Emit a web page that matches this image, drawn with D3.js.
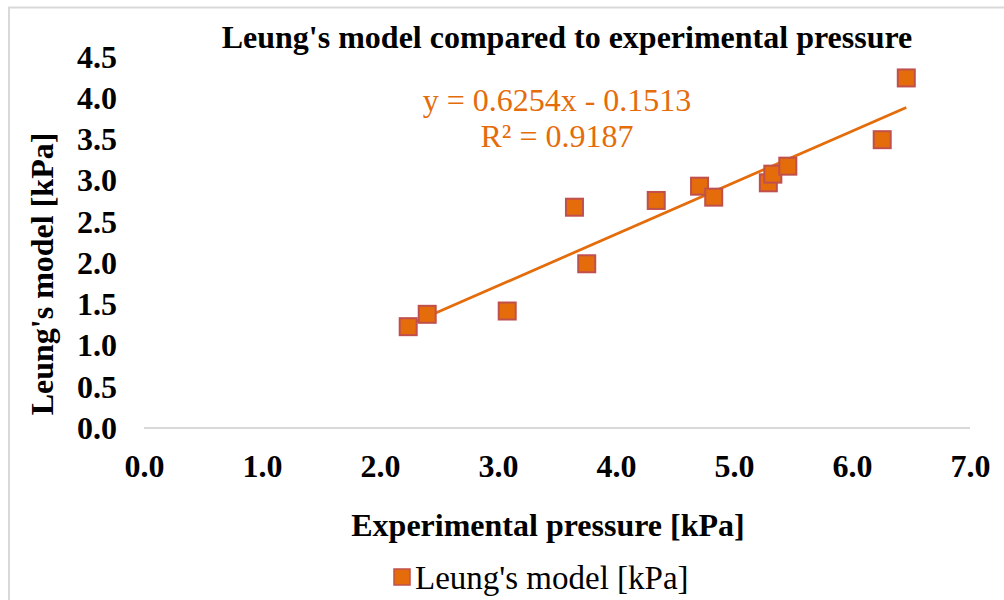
<!DOCTYPE html>
<html>
<head>
<meta charset="utf-8">
<script src="https://cdn.jsdelivr.net/npm/d3@7"></script>
<style>
  html, body { margin: 0; padding: 0; background: #fff; }
  svg { display: block; }
  text { font-family: "Liberation Serif", "Times New Roman", serif; }
</style>
</head>
<body>
<svg id="chart" width="1004" height="600"></svg>
<script>
// Experimental pressure [kPa] vs. Leung's model prediction [kPa]
const experimental = [2.239, 2.400, 3.078, 3.648, 3.752, 4.341, 4.708, 4.828, 5.291, 5.329, 5.456, 6.256, 6.460];
const leungModel   = [1.229, 1.379, 1.419, 2.678, 1.992, 2.760, 2.933, 2.800, 2.974, 3.079, 3.176, 3.497, 4.246];

// Linear trendline coefficients
const slope = 0.6254;
const intercept = -0.1513;
const rSquared = 0.9187;

const xTicks = [0, 1, 2, 3, 4, 5, 6, 7];
const yTicks = [0, 0.5, 1, 1.5, 2, 2.5, 3, 3.5, 4, 4.5];

const orange = "#E46C0A";
const markerEdge = "#C0504D";

const svg = d3.select("#chart");

// chart area border
svg.append("rect")
  .attr("x", 9).attr("y", 7.5)
  .attr("width", 1100).attr("height", 700)
  .attr("fill", "none")
  .attr("stroke", "#D9D9D9")
  .attr("stroke-width", 2);

const x = d3.scaleLinear().domain([0, 7]).range([144, 970]);
const y = d3.scaleLinear().domain([0, 4.5]).range([428, 57]);

// horizontal axis line
svg.append("line")
  .attr("x1", x(0)).attr("x2", x(7))
  .attr("y1", y(0)).attr("y2", y(0))
  .attr("stroke", "#D9D9D9").attr("stroke-width", 2);

// x axis labels
const xAxis = d3.axisBottom(x).tickValues(xTicks).tickFormat(d3.format(".1f")).tickSize(0).tickPadding(0);
const gx = svg.append("g").attr("transform", "translate(0,477)").call(xAxis);
gx.select(".domain").remove();
gx.selectAll("text")
  .attr("y", 0).attr("dy", 0)
  .attr("font-size", 32).attr("font-weight", "bold").attr("fill", "#000")
  .style("font-family", "'Liberation Serif', serif");

// y axis labels
const yAxis = d3.axisLeft(y).tickValues(yTicks).tickFormat(d3.format(".1f")).tickSize(0).tickPadding(0);
const gy = svg.append("g").attr("transform", `translate(${x(0) - 27},0)`).call(yAxis);
gy.select(".domain").remove();
gy.selectAll("text")
  .attr("font-size", 32).attr("font-weight", "bold").attr("fill", "#000")
  .style("font-family", "'Liberation Serif', serif");

// trendline over the data range
const xMin = d3.min(experimental), xMax = d3.max(experimental);
svg.append("line")
  .attr("x1", x(xMin)).attr("y1", y(slope * xMin + intercept))
  .attr("x2", x(xMax)).attr("y2", y(slope * xMax + intercept))
  .attr("stroke", orange).attr("stroke-width", 2.75);

// markers
const size = 17;
svg.append("g").selectAll("rect")
  .data(experimental.map((d, i) => [d, leungModel[i]]))
  .join("rect")
  .attr("x", d => x(d[0]) - size / 2)
  .attr("y", d => y(d[1]) - size / 2)
  .attr("width", size).attr("height", size)
  .attr("fill", orange)
  .attr("stroke", markerEdge).attr("stroke-width", 2);

// trendline equation
const fmtSigned = v => (v < 0 ? "- " : "+ ") + Math.abs(v).toFixed(4);
svg.append("text")
  .attr("x", 557).attr("y", 111)
  .attr("text-anchor", "middle")
  .attr("font-size", 32).attr("fill", orange)
  .text(`y = ${slope.toFixed(4)}x ${fmtSigned(intercept)}`);
svg.append("text")
  .attr("x", 557).attr("y", 147)
  .attr("text-anchor", "middle")
  .attr("font-size", 32).attr("fill", orange)
  .text(`R² = ${rSquared.toFixed(4)}`);

// title
svg.append("text")
  .attr("x", 567).attr("y", 48)
  .attr("text-anchor", "middle")
  .attr("font-size", 32).attr("font-weight", "bold")
  .text("Leung's model compared to experimental pressure");

// axis titles
svg.append("text")
  .attr("x", 548).attr("y", 536)
  .attr("text-anchor", "middle")
  .attr("font-size", 32).attr("font-weight", "bold")
  .text("Experimental pressure [kPa]");

svg.append("text")
  .attr("transform", "translate(53,274) rotate(-90)")
  .attr("text-anchor", "middle")
  .attr("font-size", 32).attr("font-weight", "bold")
  .text("Leung's model [kPa]");

// legend
svg.append("rect")
  .attr("x", 394).attr("y", 569)
  .attr("width", 16).attr("height", 16)
  .attr("fill", orange)
  .attr("stroke", markerEdge).attr("stroke-width", 1.5);
svg.append("text")
  .attr("x", 415).attr("y", 589)
  .attr("font-size", 33)
  .text("Leung's model [kPa]");
</script>
</body>
</html>
